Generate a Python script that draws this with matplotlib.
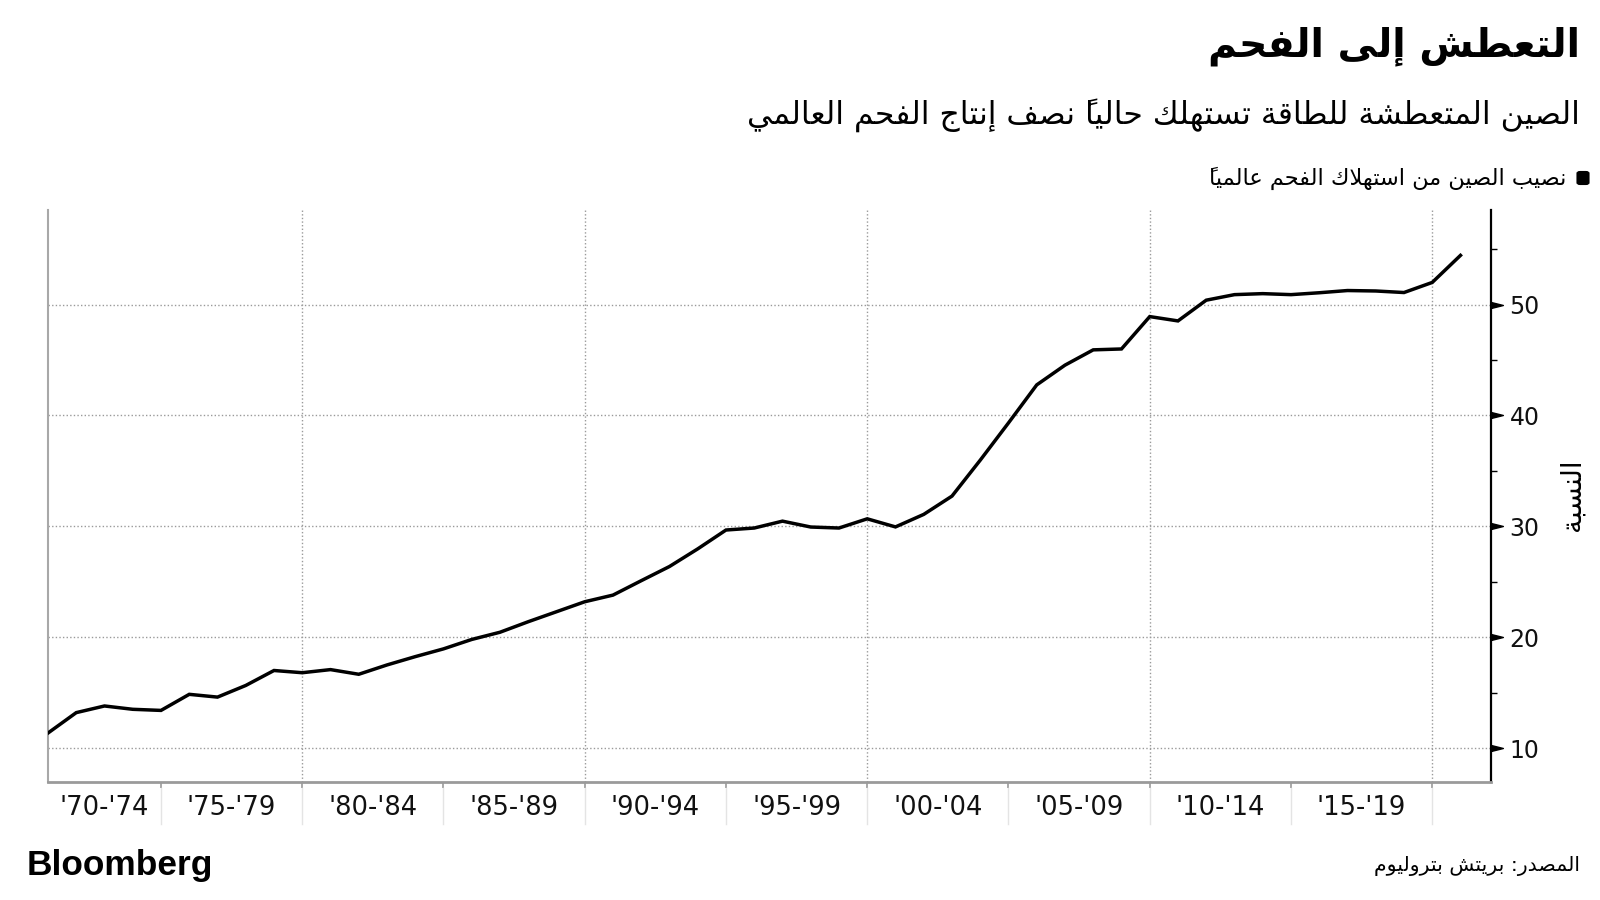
import matplotlib
matplotlib.use("Agg")
import matplotlib.pyplot as plt
import matplotlib.transforms as mtransforms
from matplotlib.patches import FancyBboxPatch

# ---------------- data ----------------
years = list(range(1970, 2021))
china_share = [
    11.36, 13.2, 13.8, 13.5, 13.4, 14.85, 14.6, 15.65, 17.0, 16.8,
    17.08, 16.66, 17.5, 18.25, 18.95, 19.8, 20.45, 21.4, 22.3, 23.2,
    23.8, 25.1, 26.38, 27.97, 29.67, 29.85, 30.47, 29.94, 29.85, 30.68,
    29.95, 31.08, 32.73, 35.97, 39.33, 42.76, 44.54, 45.92, 46.0, 48.92,
    48.53, 50.4, 50.9, 50.99, 50.9, 51.07, 51.27, 51.23, 51.09, 52.0,
    54.44,
]
period_labels = ["'70-'74", "'75-'79", "'80-'84", "'85-'89", "'90-'94",
                 "'95-'99", "'00-'04", "'05-'09", "'10-'14", "'15-'19"]
period_starts = [1970, 1975, 1980, 1985, 1990, 1995, 2000, 2005, 2010, 2015]
y_ticks = [10, 20, 30, 40, 50]

title = "التعطش إلى الفحم"
subtitle = "الصين المتعطشة للطاقة تستهلك حالياً نصف إنتاج الفحم العالمي"
legend_label = "نصيب الصين من استهلاك الفحم عالمياً"
y_label = "النسبة"
source = "المصدر: بريتش بتروليوم"

# ---------------- minimal Arabic shaping ----------------
FORMS = {
    'ء': ('\uFE80', None, None, None),
    'آ': ('\uFE81', '\uFE82', None, None),
    'أ': ('\uFE83', '\uFE84', None, None),
    'ؤ': ('\uFE85', '\uFE86', None, None),
    'إ': ('\uFE87', '\uFE88', None, None),
    'ئ': ('\uFE89', '\uFE8A', '\uFE8B', '\uFE8C'),
    'ا': ('\uFE8D', '\uFE8E', None, None),
    'ب': ('\uFE8F', '\uFE90', '\uFE91', '\uFE92'),
    'ة': ('\uFE93', '\uFE94', None, None),
    'ت': ('\uFE95', '\uFE96', '\uFE97', '\uFE98'),
    'ث': ('\uFE99', '\uFE9A', '\uFE9B', '\uFE9C'),
    'ج': ('\uFE9D', '\uFE9E', '\uFE9F', '\uFEA0'),
    'ح': ('\uFEA1', '\uFEA2', '\uFEA3', '\uFEA4'),
    'خ': ('\uFEA5', '\uFEA6', '\uFEA7', '\uFEA8'),
    'د': ('\uFEA9', '\uFEAA', None, None),
    'ذ': ('\uFEAB', '\uFEAC', None, None),
    'ر': ('\uFEAD', '\uFEAE', None, None),
    'ز': ('\uFEAF', '\uFEB0', None, None),
    'س': ('\uFEB1', '\uFEB2', '\uFEB3', '\uFEB4'),
    'ش': ('\uFEB5', '\uFEB6', '\uFEB7', '\uFEB8'),
    'ص': ('\uFEB9', '\uFEBA', '\uFEBB', '\uFEBC'),
    'ض': ('\uFEBD', '\uFEBE', '\uFEBF', '\uFEC0'),
    'ط': ('\uFEC1', '\uFEC2', '\uFEC3', '\uFEC4'),
    'ظ': ('\uFEC5', '\uFEC6', '\uFEC7', '\uFEC8'),
    'ع': ('\uFEC9', '\uFECA', '\uFECB', '\uFECC'),
    'غ': ('\uFECD', '\uFECE', '\uFECF', '\uFED0'),
    'ف': ('\uFED1', '\uFED2', '\uFED3', '\uFED4'),
    'ق': ('\uFED5', '\uFED6', '\uFED7', '\uFED8'),
    'ك': ('\uFED9', '\uFEDA', '\uFEDB', '\uFEDC'),
    'ل': ('\uFEDD', '\uFEDE', '\uFEDF', '\uFEE0'),
    'م': ('\uFEE1', '\uFEE2', '\uFEE3', '\uFEE4'),
    'ن': ('\uFEE5', '\uFEE6', '\uFEE7', '\uFEE8'),
    'ه': ('\uFEE9', '\uFEEA', '\uFEEB', '\uFEEC'),
    'و': ('\uFEED', '\uFEEE', None, None),
    'ى': ('\uFEEF', '\uFEF0', None, None),
    'ي': ('\uFEF1', '\uFEF2', '\uFEF3', '\uFEF4'),
}
LAM_ALEF = {'آ': ('\uFEF5', '\uFEF6'), 'أ': ('\uFEF7', '\uFEF8'),
            'إ': ('\uFEF9', '\uFEFA'), 'ا': ('\uFEFB', '\uFEFC')}


def _is_mark(c):
    return '\u064B' <= c <= '\u0652' or c == '\u0670'


def shape(text):
    clusters = []
    for c in text:
        if _is_mark(c) and clusters:
            clusters[-1][1] += c
        else:
            clusters.append([c, ''])
    merged = []
    i = 0
    while i < len(clusters):
        c, m = clusters[i]
        if c == 'ل' and i + 1 < len(clusters) and clusters[i + 1][0] in LAM_ALEF:
            merged.append(['LA' + clusters[i + 1][0], m + clusters[i + 1][1]])
            i += 2
        else:
            merged.append([c, m])
            i += 1

    def joins_next(c):
        if c.startswith('LA'):
            return False
        f = FORMS.get(c)
        return f is not None and f[2] is not None

    def joinable(c):
        return c.startswith('LA') or (c in FORMS and c != 'ء')

    out = []
    n = len(merged)
    for i, (c, m) in enumerate(merged):
        prev_j = i > 0 and joins_next(merged[i - 1][0])
        nxt = i + 1 < n and joinable(merged[i + 1][0])
        if c.startswith('LA'):
            iso, fin = LAM_ALEF[c[2]]
            g = fin if prev_j else iso
        elif c in FORMS:
            iso, fin, ini, med = FORMS[c]
            pj = prev_j and fin is not None
            nj = nxt and ini is not None
            if pj and nj:
                g = med
            elif pj:
                g = fin
            elif nj:
                g = ini
            else:
                g = iso
        else:
            g = c
        out.append(m + g)
    return ''.join(reversed(out))


# ---------------- figure ----------------
W, H = 1600, 900
fig = plt.figure(figsize=(16, 9), dpi=100)
fig.patch.set_facecolor('white')


def fx(px):
    return px / W


def fy(py):
    return 1 - py / H


ax_left, ax_right, ax_top, ax_bottom = 48, 1490.7, 209.6, 781.7
ax = fig.add_axes([fx(ax_left), fy(ax_bottom), fx(ax_right - ax_left), (ax_bottom - ax_top) / H])

x_pos = [y + 1 for y in years]  # annual values plotted at year end
ax.plot(x_pos, china_share, color='black', lw=2.5, solid_joinstyle='miter', zorder=5)

x0, x1 = 1971.0, 2022.07
ax.set_xlim(x0, x1)
ax.set_ylim(6.97, 58.57)

grid_kw = dict(color='#9a9a9a', lw=1.0, linestyle=(0, (1, 1.6)), zorder=1)
for g in range(1980, 2021, 10):
    ax.axvline(g, **grid_kw)
for v in y_ticks:
    ax.axhline(v, **grid_kw)

# spines
ax.spines['top'].set_visible(False)
ax.spines['left'].set_color('#a8a8a8')
ax.spines['left'].set_linewidth(1.5)
ax.spines['bottom'].set_color('#9a9a9a')
ax.spines['bottom'].set_linewidth(2.0)
ax.spines['right'].set_color('black')
ax.spines['right'].set_linewidth(1.6)

# x ticks
ax.set_xticks(list(range(1975, 2021, 5)))
ax.set_xticklabels([])
ax.tick_params(axis='x', length=4, width=1.2, color='#9a9a9a', direction='out')

# y ticks on right
ax.yaxis.tick_right()
ax.set_yticks(y_ticks)
ax.set_yticks([15, 25, 35, 45, 55], minor=True)
ax.tick_params(axis='y', which='major', length=0, pad=13.5, labelsize=17,
               labelcolor='#111111')
ax.tick_params(axis='y', which='minor', length=4, width=1.0, color='black')
ax.tick_params(axis='y', which='minor', labelright=False)

# triangle markers for major y ticks
tri = mtransforms.blended_transform_factory(ax.transAxes, ax.transData)
tri = mtransforms.offset_copy(tri, fig=fig, x=6, y=0, units='dots')
ax.plot([1.0] * len(y_ticks), y_ticks, transform=tri, ls='none',
        marker=[(-1, -0.5), (1, 0), (-1, 0.5), (-1, -0.5)], ms=8.5,
        color='black', mec='black', clip_on=False, zorder=6)

# period labels + separators
sep_tr = mtransforms.blended_transform_factory(ax.transData, ax.transAxes)
axh = ax_bottom - ax_top
for lab, s in zip(period_labels, period_starts):
    a = max(s, x0)
    b = s + 5
    ax.text((a + b) / 2, -(808 - ax_bottom) / axh, lab, transform=sep_tr,
            ha='center', va='center', fontsize=18.5, color='#111111',
            family='DejaVu Sans')
for s in range(1975, 2021, 5):
    ax.plot([s, s], [-(788 - ax_bottom) / axh, -(824 - ax_bottom) / axh],
            transform=sep_tr, color='#e4e4e4', lw=1.0, clip_on=False)

# ---------------- texts ----------------
AR = ['DejaVu Sans']
t_title = fig.text(fx(1580), fy(46), shape(title), ha='right', va='center',
                   fontsize=30, fontweight='bold', family=AR, color='black')
t_sub = fig.text(fx(1580), fy(115), shape(subtitle), ha='right', va='center',
                 fontsize=22, family=AR, color='black')
t_leg = fig.text(fx(1566), fy(178), shape(legend_label), ha='right', va='center',
                 fontsize=15, family=AR, color='black')
t_ylab = fig.text(fx(1572), fy(495), shape(y_label), ha='center', va='center',
                  rotation=90, fontsize=20, family=AR, color='black')
t_src = fig.text(fx(1580), fy(866), shape(source), ha='right', va='center',
                 fontsize=15, family=AR, color='black')
t_bb = fig.text(fx(27), fy(875), "Bloomberg", ha='left', va='baseline',
                fontsize=24.5, fontweight='bold', family=['Liberation Sans', 'DejaVu Sans'],
                color='black')

fig.patches.append(FancyBboxPatch((fx(1577), fy(184.5)), fx(12), 13 / H,
                                  boxstyle='round,pad=0,rounding_size=0.002',
                                  transform=fig.transFigure, facecolor='black',
                                  edgecolor='black', lw=0.8))

# fit text widths to the reference
renderer = fig.canvas.get_renderer()
for t, w in [(t_title, 372), (t_sub, 830), (t_leg, 359), (t_src, 205), (t_bb, 186)]:
    bb = t.get_window_extent(renderer=renderer)
    if bb.width > 0:
        t.set_fontsize(t.get_fontsize() * w / bb.width)

fig.savefig('out.png', dpi=100, facecolor='white')
